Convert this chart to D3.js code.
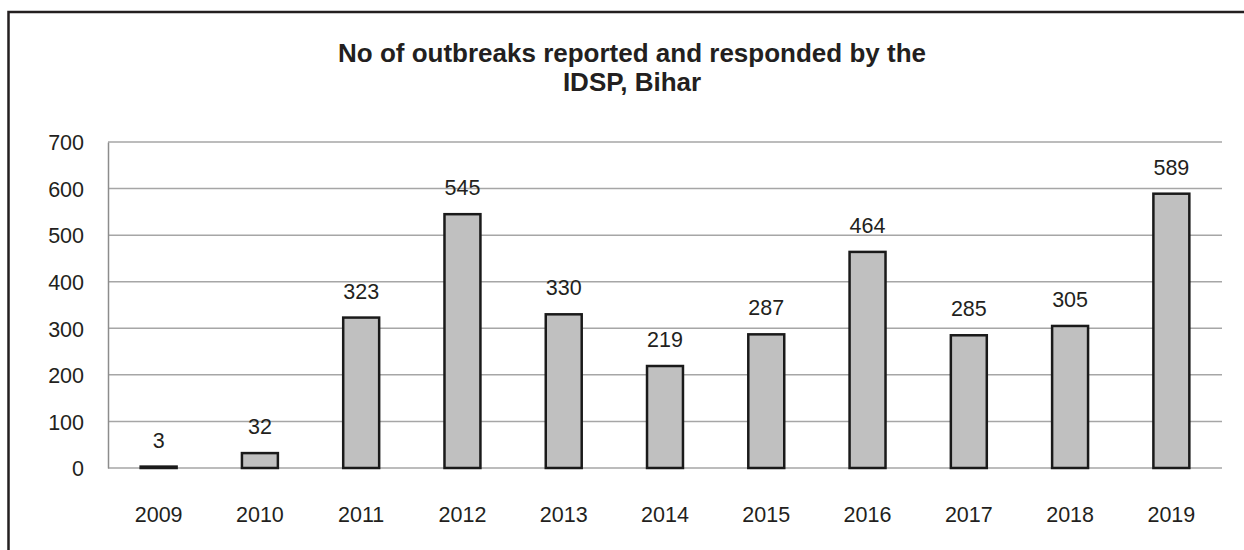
<!DOCTYPE html>
<html>
<head>
<meta charset="utf-8">
<script src="https://cdn.jsdelivr.net/npm/d3@7"></script>
<style>
  body { margin: 0; background: #fff; }
  text { font-family: "Liberation Sans", Arial, sans-serif; fill: #231f20; }
</style>
</head>
<body>
<div id="chart"></div>
<script>
// Data
const years = ["2009", "2010", "2011", "2012", "2013", "2014", "2015", "2016", "2017", "2018", "2019"];
const outbreaks = [3, 32, 323, 545, 330, 219, 287, 464, 285, 305, 589];
const yTicks = [0, 100, 200, 300, 400, 500, 600, 700];
const titleLines = ["No of outbreaks reported and responded by the", "IDSP, Bihar"];

const width = 1244;
const height = 550;
const plot = { left: 108, right: 1222, top: 142, bottom: 468 };

const svg = d3.select("#chart")
    .append("svg")
    .attr("width", width)
    .attr("height", height);

// Outer chart border (runs off the right and bottom edges)
svg.append("rect")
    .attr("x", 8.5)
    .attr("y", 12)
    .attr("width", width)
    .attr("height", height)
    .attr("fill", "none")
    .attr("stroke", "#231f20")
    .attr("stroke-width", 2.5);

// Title, two lines
svg.append("text")
    .attr("x", 632)
    .attr("y", 62)
    .attr("text-anchor", "middle")
    .style("font-size", "26px")
    .style("font-weight", "bold")
    .selectAll("tspan")
    .data(titleLines)
    .enter().append("tspan")
    .attr("x", 632)
    .attr("dy", (d, i) => i === 0 ? 0 : 29)
    .text(d => d);

// Scales
const x = d3.scaleBand()
    .domain(years)
    .range([plot.left, plot.right])
    .paddingInner(0.645)
    .paddingOuter(0.3225);

const y = d3.scaleLinear()
    .domain([0, 700])
    .range([plot.bottom, plot.top]);

// Gridlines
svg.append("g")
    .selectAll("line")
    .data(yTicks)
    .enter().append("line")
    .attr("x1", plot.left)
    .attr("x2", plot.right)
    .attr("y1", d => y(d))
    .attr("y2", d => y(d))
    .attr("stroke", "#a6a6a6")
    .attr("stroke-width", 1.5);

// Y axis
const yAxis = svg.append("g")
    .attr("transform", `translate(${plot.left},0)`)
    .call(d3.axisLeft(y).tickValues(yTicks).tickSize(0).tickPadding(24));
yAxis.select(".domain").attr("stroke", "#8c8c8c").attr("stroke-width", 1.5);
yAxis.selectAll("text")
    .attr("dy", "0.36em")
    .style("font-size", "21.5px");

// X axis labels
const xAxis = svg.append("g")
    .attr("transform", `translate(0,${plot.bottom})`)
    .call(d3.axisBottom(x).tickSize(0).tickPadding(0));
xAxis.select(".domain").remove();
xAxis.selectAll("text")
    .attr("y", 54)
    .attr("dy", 0)
    .style("font-size", "21.5px");

// Bars
svg.append("g")
    .selectAll("rect")
    .data(outbreaks)
    .enter().append("rect")
    .attr("x", (d, i) => x(years[i]))
    .attr("y", d => y(d))
    .attr("width", x.bandwidth())
    .attr("height", d => y(0) - y(d))
    .attr("fill", "#c0c0c0")
    .attr("stroke", "#1a1a1a")
    .attr("stroke-width", 2.5);

// Value labels above bars
svg.append("g")
    .selectAll("text")
    .data(outbreaks)
    .enter().append("text")
    .attr("x", (d, i) => x(years[i]) + x.bandwidth() / 2)
    .attr("y", d => y(d) - 19)
    .attr("text-anchor", "middle")
    .style("font-size", "21.5px")
    .text(d => d);
</script>
</body>
</html>
